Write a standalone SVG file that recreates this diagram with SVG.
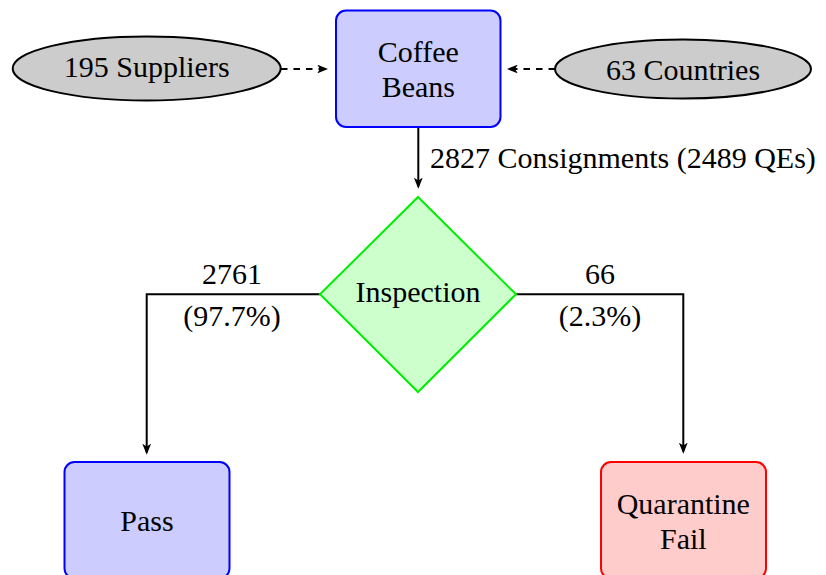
<svg xmlns="http://www.w3.org/2000/svg" width="826" height="575" viewBox="0 0 826 575">
  <style>
    text { font-family: 'Liberation Serif', 'Times New Roman', serif; font-size: 30px; fill: #000; }
    .mid { text-anchor: middle; }
    .box { fill: #ccccff; stroke: #0000ff; stroke-width: 2; }
    .fail { fill: #ffcccc; stroke: #ff0000; stroke-width: 2; }
    .decision { fill: #ccffcc; stroke: #00ee00; stroke-width: 2; }
    .source { fill: #cccccc; stroke: #000; stroke-width: 2; }
    .edge { fill: none; stroke: #000; stroke-width: 2; }
    .dashed { stroke-dasharray: 6.5 6; }
  </style>
  <defs>
    <marker id="arrow" viewBox="0 0 10 8" refX="8" refY="4" markerWidth="11" markerHeight="8.8" markerUnits="userSpaceOnUse" orient="auto">
      <path d="M0,0 L10,4 L0,8 L2.5,4 z" fill="#000"/>
    </marker>
  </defs>

  <!-- connectors and their labels -->
  <g id="connectors">
    <path class="edge dashed" d="M281,69 H326" marker-end="url(#arrow)"/>
    <path class="edge dashed" d="M555,69 H509" marker-end="url(#arrow)"/>
    <path class="edge" d="M418.3,127 V186.5" marker-end="url(#arrow)"/>
    <path class="edge" d="M320,294.3 H146.7 V452.5" marker-end="url(#arrow)"/>
    <path class="edge" d="M516,294.3 H683.3 V451.5" marker-end="url(#arrow)"/>
    <text x="430" y="168">2827 Consignments (2489 QEs)</text>
    <text class="mid" x="232" y="284">2761</text>
    <text class="mid" x="232" y="326">(97.7%)</text>
    <text class="mid" x="600" y="284">66</text>
    <text class="mid" x="600" y="326">(2.3%)</text>
  </g>

  <g id="suppliers">
    <ellipse class="source" cx="146.7" cy="68.5" rx="134" ry="32"/>
    <text class="mid" x="146.7" y="77">195 Suppliers</text>
  </g>

  <g id="countries">
    <ellipse class="source" cx="683" cy="69" rx="128" ry="29.5"/>
    <text class="mid" x="683" y="79.5">63 Countries</text>
  </g>

  <g id="coffee-beans">
    <rect class="box" x="336" y="10.5" width="164.5" height="116.5" rx="10" ry="10"/>
    <text class="mid" x="418.3" y="62">Coffee</text>
    <text class="mid" x="418.3" y="97">Beans</text>
  </g>

  <g id="inspection">
    <polygon class="decision" points="418,197 516,294.3 418,392 320,294.3"/>
    <text class="mid" x="418" y="302">Inspection</text>
  </g>

  <g id="pass">
    <rect class="box" x="64.5" y="462" width="165" height="116.5" rx="10" ry="10"/>
    <text class="mid" x="147" y="530.5">Pass</text>
  </g>

  <g id="quarantine">
    <rect class="fail" x="601" y="462" width="165" height="116.5" rx="10" ry="10"/>
    <text class="mid" x="683.3" y="513.5">Quarantine</text>
    <text class="mid" x="683.3" y="548.5">Fail</text>
  </g>
</svg>
